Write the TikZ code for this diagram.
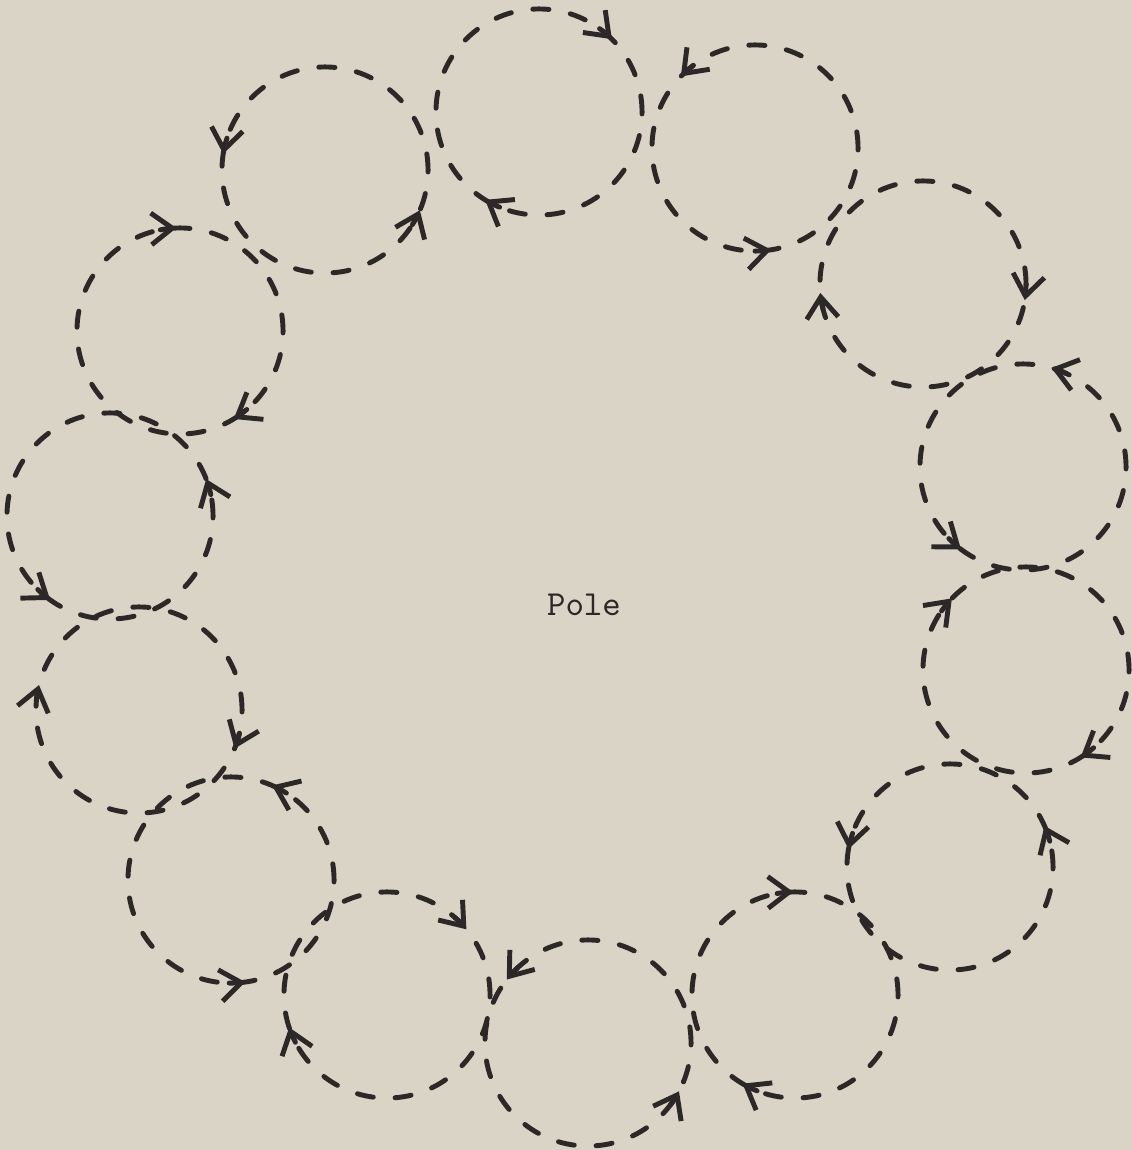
\documentclass[tikz,border=0pt]{standalone}
\usetikzlibrary{arrows.meta}
\definecolor{paper}{RGB}{218,212,199}
\definecolor{ink}{RGB}{45,40,40}

\begin{document}
\begin{tikzpicture}[x=0.01cm,y=0.01cm,
    wheel/.style={circle, draw=ink, inner sep=0pt, outer sep=0pt, minimum size=2.06cm,
        line width=1.4pt, line cap=round, dash pattern=on 4.6pt off 6.2pt},
    spin/.style={draw=ink, line width=1.4pt, line cap=round,
        -{Straight Barb[length=6pt,width=9pt]}}]
    % Paper
    \fill[paper] (0,0) rectangle (1132,1150);
    \useasboundingbox (0,0) rectangle (1132,1150);

    % Centre label
    \node[font=\ttfamily\fontsize{10}{12}\selectfont, text=ink] (pole) at (584,545) {Pole};

    % Ring of vortices: name/x/y/first arrow/second arrow/sense (1 = clockwise)
    \foreach \n/\x/\y/\a/\b/\s in {1/539/1038/45/-121.5/1, 2/755/1002/136/-81/-1,
        3/923/866/-9/185/1, 4/1023/683/74/-127/-1, 5/1026/480/136/-58/1,
        6/950/283/23.5/170/-1, 7/795/155/91/-120.6/1, 8/588/107/142/-28/-1,
        9/387/155/39.6/-161.7/1, 10/231/270/66.5/-82/-1, 11/139/440/-22/166/1,
        12/110/634/-125.5/21/-1, 13/180/819/92/-58.6/1, 14/325/980/171/-23/-1}{
        \node[wheel] (v\n) at (\x,\y) {};
        \foreach \p in {\a,\b}
            \draw[spin] ([shift={(\p+\s*9:1.03cm)}]v\n.center)
                arc[start angle=\p+\s*9, end angle=\p, radius=1.03cm];
    }
\end{tikzpicture}
\end{document}
